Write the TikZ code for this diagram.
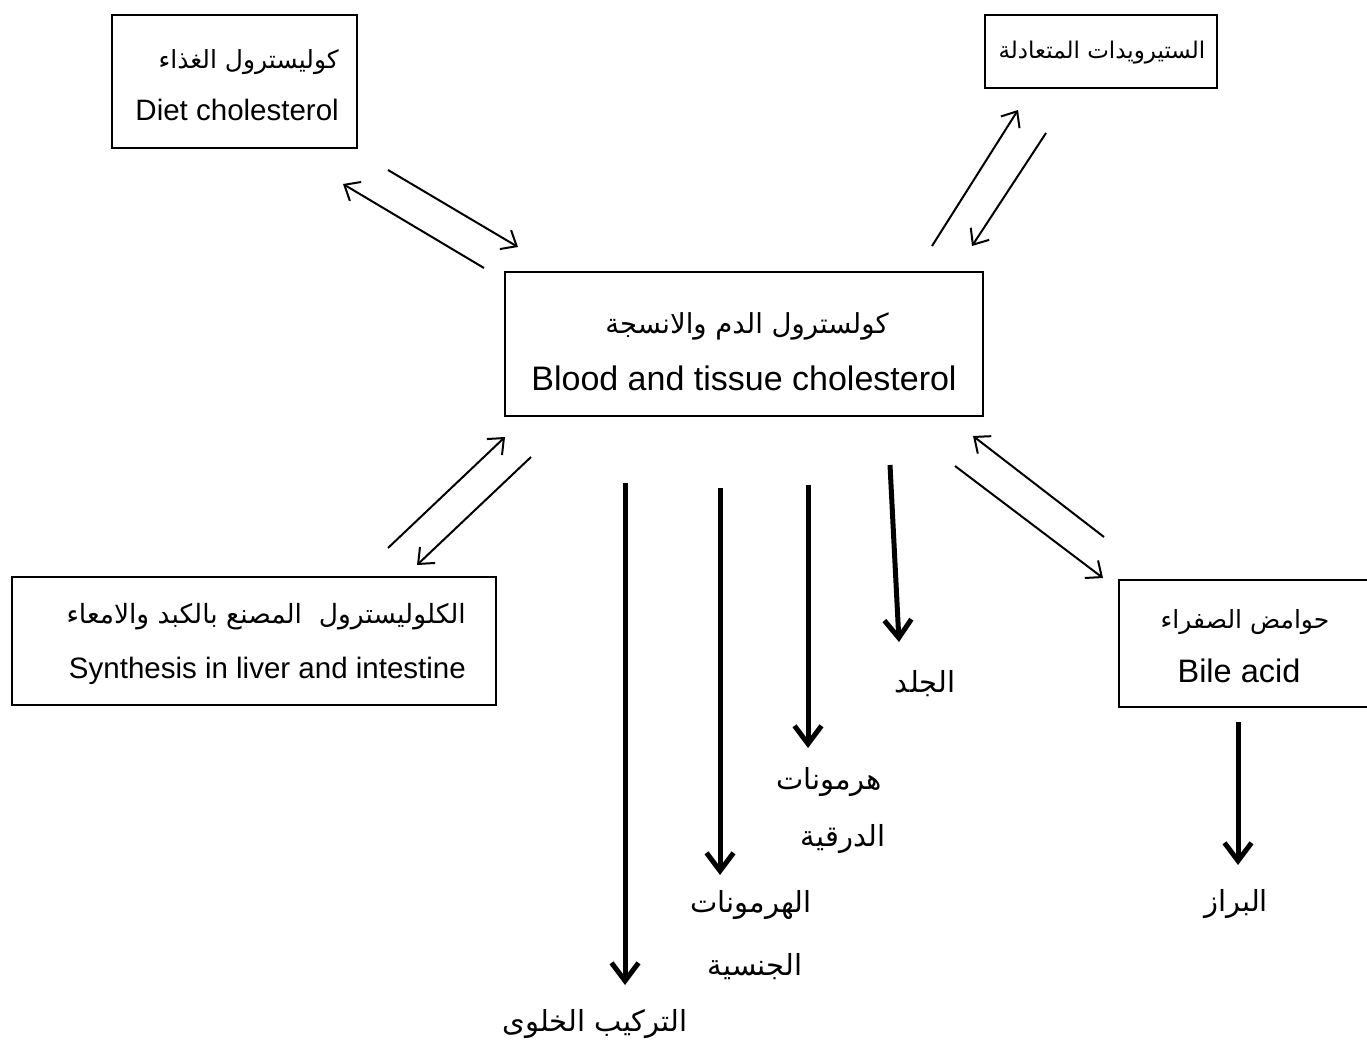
\documentclass[tikz,border=0pt]{standalone}
\usepackage{fontspec}
\setmainfont{Liberation Sans}
\newfontfamily\ar[Script=Arabic]{DejaVu Sans}
\TeXXeTstate=1
\usetikzlibrary{arrows.meta}
\begin{document}
\begin{tikzpicture}[x=1pt,y=-1pt,
  box/.style={draw,line width=1.5pt,inner sep=0pt},
  thin/.style={line width=2pt,-{Straight Barb[length=13pt,width=22pt,line width=2pt]}},
  thick/.style={line width=5pt,-{Straight Barb[length=18pt,width=27pt,line width=5pt]}},
  en/.style={font=\fontsize{29.5}{32}\selectfont,inner sep=0pt,anchor=base},
  arb/.style={font=\fontsize{25}{28}\selectfont\ar,inner sep=0pt,anchor=base},
  lab/.style={font=\fontsize{29}{32}\selectfont\ar,inner sep=0pt,anchor=base}]
\clip (0,0) rectangle (1367,1043);
\fill[white] (0,0) rectangle (1367,1043);
% boxes
\node[box,minimum width=245pt,minimum height=133pt] (diet) at (234.5,81.5) {};
\node[box,minimum width=232pt,minimum height=73pt] (neut) at (1101,51.5) {};
\node[box,minimum width=478pt,minimum height=144pt] (blood) at (744,344) {};
\node[box,minimum width=484pt,minimum height=128pt] (synth) at (254,641) {};
\node[box,minimum width=281pt,minimum height=127pt] (bile) at (1259.5,643.5) {};
% box texts
\node[arb,anchor=base east] (t1) at (339,69) {\beginR كوليسترول الغذاء\endR};
\node[en,anchor=base east] (t2) at (339,121) {Diet cholesterol};
\node[arb,font=\fontsize{23}{26}\selectfont\ar] (t3) at (1102,59) {\beginR الستيرويدات المتعادلة\endR};
\node[arb,font=\fontsize{27.5}{30}\selectfont\ar] (t4) at (747,333) {\beginR كولسترول الدم والانسجة\endR};
\node[en,font=\fontsize{34}{38}\selectfont] (t5) at (744,390) {Blood and tissue cholesterol};
\node[arb,font=\fontsize{26.5}{30}\selectfont\ar,anchor=base east] (t6) at (466,623) {\beginR الكلوليسترول \ المصنع بالكبد والامعاء\endR};
\node[en,anchor=base east] (t7) at (466,678) {Synthesis in liver and intestine};
\node[arb] (t8) at (1245,628) {\beginR حوامض الصفراء\endR};
\node[en,font=\fontsize{32.5}{36}\selectfont] (t9) at (1239,682) {Bile acid};
% labels
\node[lab] (skin) at (925,692) {\beginR الجلد\endR};
\node[lab] (adr1) at (829,789) {\beginR هرمونات\endR};
\node[lab] (adr2) at (843,846) {\beginR الدرقية\endR};
\node[lab] (sex1) at (751,912) {\beginR الهرمونات\endR};
\node[lab] (sex2) at (755,975) {\beginR الجنسية\endR};
\node[lab] (cell) at (595,1031) {\beginR التركيب الخلوى\endR};
\node[lab] (fec) at (1236,911) {\beginR البراز\endR};
% thin arrow endpoints
\coordinate (d1s) at (388,170); \coordinate (d1e) at (518,247);
\coordinate (d2s) at (484,268); \coordinate (d2e) at (343,184);
\coordinate (n1s) at (932,246); \coordinate (n1e) at (1018,110);
\coordinate (n2s) at (1046,133); \coordinate (n2e) at (972,246);
\coordinate (s1s) at (388,548); \coordinate (s1e) at (505,437);
\coordinate (s2s) at (531,457); \coordinate (s2e) at (417,565);
\coordinate (b1s) at (1104,537); \coordinate (b1e) at (973,436);
\coordinate (b2s) at (955,466); \coordinate (b2e) at (1103,578);
\draw[thin] (d1s) -- (d1e);
\draw[thin] (d2s) -- (d2e);
\draw[thin] (n1s) -- (n1e);
\draw[thin] (n2s) -- (n2e);
\draw[thin] (s1s) -- (s1e);
\draw[thin] (s2s) -- (s2e);
\draw[thin] (b1s) -- (b1e);
\draw[thin] (b2s) -- (b2e);
% thick arrows
\coordinate (c1) at (625,483); \coordinate (c2) at (625,985);
\coordinate (h1) at (720,488); \coordinate (h2) at (720,875);
\coordinate (a1) at (808,485); \coordinate (a2) at (808,748);
\coordinate (k1) at (890,465); \coordinate (k2) at (899,642);
\coordinate (f1) at (1238,722); \coordinate (f2) at (1238,865);
\draw[thick] (c1) -- (c2);
\draw[thick] (h1) -- (h2);
\draw[thick] (a1) -- (a2);
\draw[thick] (k1) -- (k2);
\draw[thick] (f1) -- (f2);
\end{tikzpicture}
\end{document}
